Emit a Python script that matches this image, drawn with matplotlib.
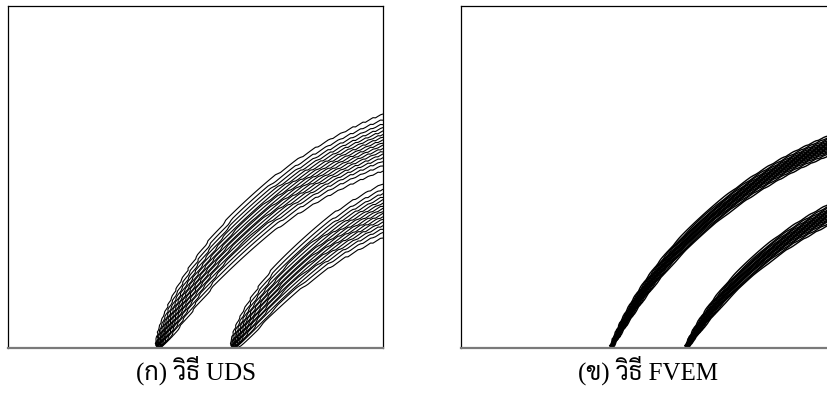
import math
import numpy as np
import matplotlib
matplotlib.use("Agg")
import matplotlib.pyplot as plt
from matplotlib import font_manager
from matplotlib.ft2font import FT2Font

# ---------------- data ----------------
panel_labels = ["(ก) วิธี UDS", "(ข) วิธี FVEM"]
rotation_center = (1.453, -0.453)     # centre of the circular flow
inflow_edges = [0.4, 0.6]             # x positions of the step edges on the bottom boundary
edge_sigma_uds = [0.077, 0.084]       # spread of each edge at the outflow (UDS)
edge_sigma_fvem = [0.030, 0.030]      # spread of each edge at the outflow (FVEM)
contour_levels = list(np.linspace(0.1, 0.9, 17))
grid_points = 151
wiggle_uds = 0.0018
wiggle_fvem = 0.0010

# ---------------- fonts ----------------
def thai_fonts():
    names = []
    for f in font_manager.fontManager.ttflist:
        try:
            cmap = FT2Font(f.fname).get_charmap()
        except Exception:
            continue
        if 0x0E27 in cmap and 0x0E18 in cmap and f.name not in names:
            names.append(f.name)
    return names

thai = thai_fonts()
preferred = [n for n in ["Sarabun", "Pridi", "Taviraj", "FreeSerif"] if n in thai]
if not preferred:
    preferred = thai[:1]
caption_family = ["Liberation Serif"] + preferred[:1] + ["DejaVu Sans"]

# ---------------- field ----------------
erf = np.vectorize(math.erf)
x = np.linspace(0, 1, grid_points)
y = np.linspace(0, 1, grid_points)
X, Y = np.meshgrid(x, y)
I, J = np.meshgrid(np.arange(grid_points), np.arange(grid_points))
checker = np.where((I + J) % 2 == 0, 1.0, -1.0)
cx, cy = rotation_center
R = np.hypot(X - cx, Y - cy)
ALPHA = np.arctan2(Y - cy, X - cx)


def edge_profile(x0, sigma_end, wiggle):
    r0 = math.hypot(x0 - cx, cy)
    a0 = math.atan2(-cy, x0 - cx)
    y_out = cy + math.sqrt(max(r0 ** 2 - (1 - cx) ** 2, 0))
    a1 = math.atan2(y_out - cy, 1 - cx)
    frac = np.clip((a0 - ALPHA) / (a0 - a1), 0, None)
    s = np.maximum(sigma_end * frac ** 0.45, 1e-4)
    return 0.5 * (1 + erf((R + wiggle * checker - r0) / s))


def field(sigmas, wiggle):
    inner = edge_profile(inflow_edges[1], sigmas[0], wiggle)
    outer = edge_profile(inflow_edges[0], sigmas[1], wiggle)
    return np.minimum(inner, 1 - outer)


fields = [field(edge_sigma_uds, wiggle_uds), field(edge_sigma_fvem, wiggle_fvem)]

# ---------------- figure ----------------
W, H = 827, 397
fig = plt.figure(figsize=(W / 100, H / 100), dpi=100)
fig.patch.set_facecolor("white")

ax_left_px = [8, 461]
ax_w_px, ax_h_px = 375, 342
ax_bottom_px = 49

for k in range(2):
    ax = fig.add_axes([ax_left_px[k] / W, ax_bottom_px / H, ax_w_px / W, ax_h_px / H])
    ax.contour(X, Y, fields[k], levels=contour_levels, colors="black",
               linewidths=0.8 if k == 0 else 1.0)
    ax.set_xlim(0, 1)
    ax.set_ylim(0, 1)
    ax.set_xticks([])
    ax.set_yticks([])
    for side in ["left", "top", "right"]:
        ax.spines[side].set_color("black")
        ax.spines[side].set_linewidth(0.9)
    ax.spines["bottom"].set_color("#7a7a7a")
    ax.spines["bottom"].set_linewidth(1.6)
    xc = (ax_left_px[k] + ax_w_px / 2) / W
    fig.text(xc, (H - 380) / H, panel_labels[k], ha="center", va="baseline",
             fontsize=18, family=caption_family, color="black")

fig.savefig("out.png", dpi=100, facecolor="white")
